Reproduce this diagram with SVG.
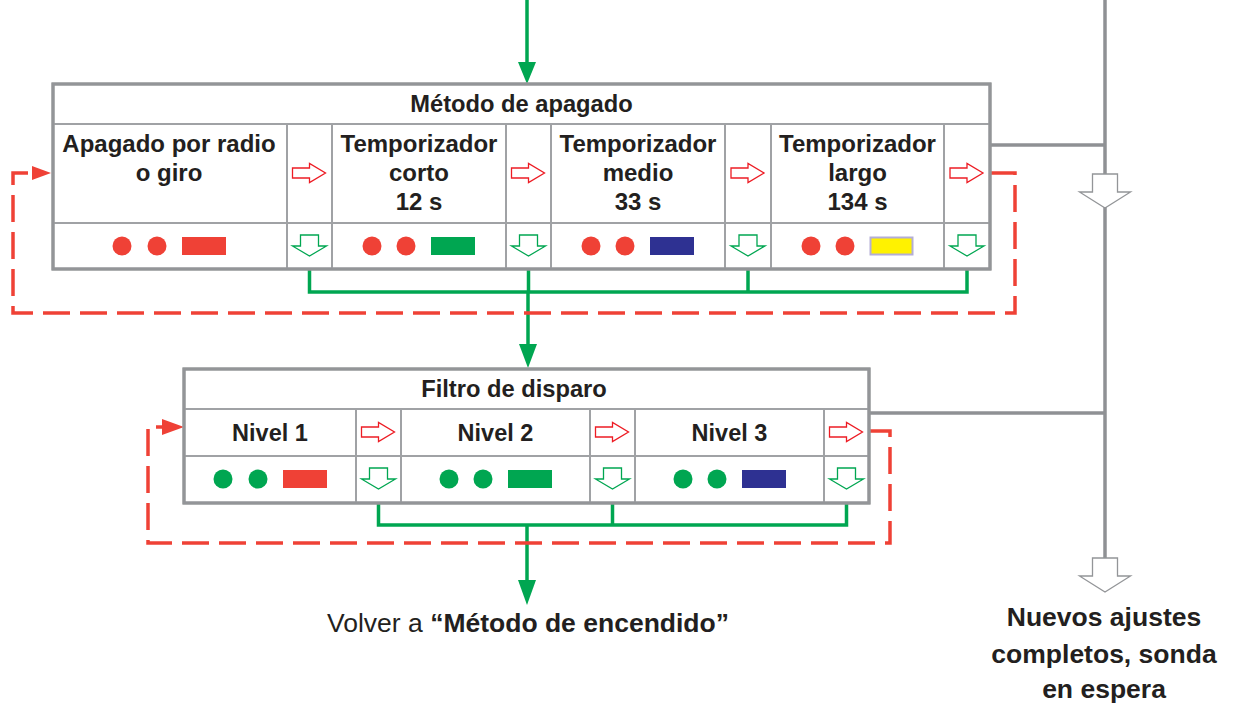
<svg xmlns="http://www.w3.org/2000/svg" width="1235" height="708" viewBox="0 0 1235 708">
<style>
.bx{fill:#fff;stroke:#939598;stroke-width:3}
.ln{stroke:#a0a2a5;stroke-width:2;fill:none}
.t{font-family:"Liberation Sans",Arial,sans-serif;font-weight:bold;font-size:24px;fill:#231f20;text-anchor:middle}
.rd{fill:#ef4136}
.gd{fill:#00a651}
.gl{stroke:#00a651;stroke-width:3.5;fill:none}
.gy{stroke:#8f9194;stroke-width:3.5;fill:none}
.dash{stroke:#ef4136;stroke-width:3.5;fill:none;stroke-dasharray:27 10}
</style>
<defs>
<path id="ra" d="M-17,-5H0V-9.5L16,0L0,9.5V5H-17Z" fill="#fff" stroke="#ed1c24" stroke-width="1.3"/>
<path id="ga" d="M-9,-11H9V0H17L0,10L-17,0H-9Z" fill="#fff" stroke="#00a651" stroke-width="1.3"/>
<path id="wa" d="M-12.5,-18H12.5V0H25.5L0,16L-25.5,0H-12.5Z" fill="#fff" stroke="#939598" stroke-width="1.3"/>
</defs>

<g id="connectors">
<path class="gy" d="M1105,0V560"/>
<path class="gy" d="M990,145H1105"/>
<path class="gy" d="M869,413H1105"/>
<path class="gl" d="M527,0V64"/>
<path class="gd" d="M518,62H536L527,84Z"/>
<path class="gl" d="M309.5,269V292H967V269M528.5,269V292M748,269V292"/>
<path class="gl" d="M528,292V346"/>
<path class="gd" d="M519,344H537L528,368Z"/>
<path class="gl" d="M378.5,503V525H846.5V503M612.5,503V525"/>
<path class="gl" d="M527,525V582"/>
<path class="gd" d="M518,580H536L527,605Z"/>
<path class="dash" d="M990,173H1015V313H13V173H33"/>
<path class="rd" d="M32,166L51,173L32,180Z"/>
<path class="dash" d="M869,431H890V543H148V427H164"/>
<path class="rd" d="M162,419L184,427L162,435Z"/>
<use href="#wa" x="1105" y="192"/>
<use href="#wa" x="1105" y="576"/>
</g>

<g id="metodo-apagado">
<rect class="bx" x="53" y="84" width="937" height="185"/>
<path class="ln" d="M53,124H990M53,223H990M287,124V269M332,124V269M506,124V269M551,124V269M725,124V269M771,124V269M944,124V269"/>
<rect x="53" y="84" width="937" height="185" fill="none" stroke="#939598" stroke-width="3"/>
<text class="t" x="521.5" y="112" style="font-size:23.7px">Método de apagado</text>
<text class="t" x="169" y="152">Apagado por radio</text>
<text class="t" x="169" y="181">o giro</text>
<text class="t" x="419" y="152">Temporizador</text>
<text class="t" x="419" y="181">corto</text>
<text class="t" x="419" y="210">12 s</text>
<text class="t" x="638" y="152">Temporizador</text>
<text class="t" x="638" y="181">medio</text>
<text class="t" x="638" y="210">33 s</text>
<text class="t" x="857.5" y="152">Temporizador</text>
<text class="t" x="857.5" y="181">largo</text>
<text class="t" x="857.5" y="210">134 s</text>
<use href="#ra" x="309.5" y="173"/>
<use href="#ra" x="528.5" y="173"/>
<use href="#ra" x="748" y="173"/>
<use href="#ra" x="967" y="173"/>
<use href="#ga" x="309.5" y="246"/>
<use href="#ga" x="528.5" y="246"/>
<use href="#ga" x="748" y="246"/>
<use href="#ga" x="967" y="246"/>
<circle class="rd" cx="122" cy="246" r="9.5"/><circle class="rd" cx="157" cy="246" r="9.5"/>
<rect class="rd" x="182" y="237" width="44" height="18"/>
<circle class="rd" cx="372" cy="246" r="9.5"/><circle class="rd" cx="406" cy="246" r="9.5"/>
<rect class="gd" x="431" y="237" width="44" height="18"/>
<circle class="rd" cx="591" cy="246" r="9.5"/><circle class="rd" cx="625" cy="246" r="9.5"/>
<rect x="650" y="237" width="44" height="18" fill="#2e3192"/>
<circle class="rd" cx="811" cy="246" r="9.5"/><circle class="rd" cx="845" cy="246" r="9.5"/>
<rect x="870.5" y="237.5" width="42" height="17" fill="#fff200" stroke="#b3aed6" stroke-width="2"/>
</g>

<g id="filtro-disparo">
<rect class="bx" x="184" y="369" width="685" height="134"/>
<path class="ln" d="M184,409H869M184,456H869M356,409V503M401,409V503M590,409V503M635,409V503M824,409V503"/>
<rect x="184" y="369" width="685" height="134" fill="none" stroke="#939598" stroke-width="3"/>
<text class="t" x="514" y="397" style="font-size:23.7px">Filtro de disparo</text>
<text class="t" x="270" y="441" style="font-size:23.5px">Nivel 1</text>
<text class="t" x="495.5" y="441" style="font-size:23.5px">Nivel 2</text>
<text class="t" x="729.5" y="441" style="font-size:23.5px">Nivel 3</text>
<use href="#ra" x="378.5" y="432"/>
<use href="#ra" x="612.5" y="432"/>
<use href="#ra" x="846.5" y="432"/>
<use href="#ga" x="378.5" y="479"/>
<use href="#ga" x="612.5" y="479"/>
<use href="#ga" x="846.5" y="479"/>
<circle class="gd" cx="223" cy="479" r="9.5"/><circle class="gd" cx="258" cy="479" r="9.5"/>
<rect class="rd" x="283" y="470" width="44" height="18"/>
<circle class="gd" cx="449" cy="479" r="9.5"/><circle class="gd" cx="483" cy="479" r="9.5"/>
<rect class="gd" x="508" y="470" width="44" height="18"/>
<circle class="gd" cx="683" cy="479" r="9.5"/><circle class="gd" cx="717" cy="479" r="9.5"/>
<rect x="742" y="470" width="44" height="18" fill="#2e3192"/>
</g>

<g id="volver">
<text x="528" y="632" style="font-family:'Liberation Sans',Arial,sans-serif;font-size:26.5px;fill:#231f20;text-anchor:middle">Volver a <tspan font-weight="bold">“Método de encendido”</tspan></text>
</g>

<g id="nuevos-ajustes">
<text class="t" x="1104" y="626" style="font-size:26.5px">Nuevos ajustes</text>
<text class="t" x="1104" y="663" style="font-size:26.5px">completos, sonda</text>
<text class="t" x="1104" y="698" style="font-size:26.5px">en espera</text>
</g>
</svg>
